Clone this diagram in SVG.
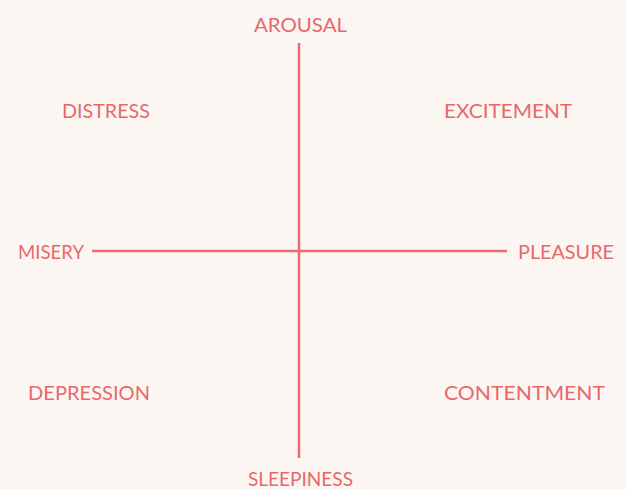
<svg xmlns="http://www.w3.org/2000/svg" width="626" height="489" viewBox="0 0 626 489">
<style>
.lbl{font-family:Lato,"Open Sans","Liberation Sans",sans-serif;font-size:20px;fill:#E8686A;}
.ax{stroke:#EC6B6D;stroke-width:2.5;fill:none;}
</style>
<rect width="626" height="489" fill="#FCF6F3"/>
<g id="connectors">
<line class="ax" x1="299" y1="43" x2="299" y2="458"/>
<line class="ax" x1="92" y1="251" x2="507" y2="251"/>
</g>
<g id="arousal"><text class="lbl" x="254" y="32" textLength="93" lengthAdjust="spacingAndGlyphs">AROUSAL</text></g>
<g id="distress"><text class="lbl" x="62" y="118" textLength="88" lengthAdjust="spacingAndGlyphs">DISTRESS</text></g>
<g id="excitement"><text class="lbl" x="444" y="118" textLength="128" lengthAdjust="spacingAndGlyphs">EXCITEMENT</text></g>
<g id="misery"><text class="lbl" x="18" y="259" textLength="66" lengthAdjust="spacingAndGlyphs">MISERY</text></g>
<g id="pleasure"><text class="lbl" x="518" y="259" textLength="96" lengthAdjust="spacingAndGlyphs">PLEASURE</text></g>
<g id="depression"><text class="lbl" x="28" y="400" textLength="122" lengthAdjust="spacingAndGlyphs">DEPRESSION</text></g>
<g id="contentment"><text class="lbl" x="444" y="400" textLength="161" lengthAdjust="spacingAndGlyphs">CONTENTMENT</text></g>
<g id="sleepiness"><text class="lbl" x="248" y="486" textLength="105" lengthAdjust="spacingAndGlyphs">SLEEPINESS</text></g>
</svg>
